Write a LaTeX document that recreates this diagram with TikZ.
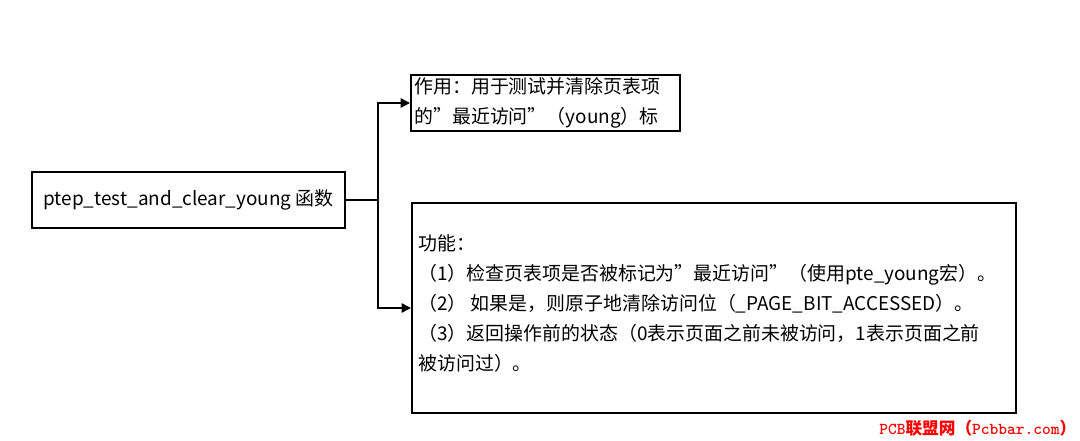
\documentclass[tikz,border=0pt]{standalone}
\usepackage{fontspec}
\setmainfont{Noto Sans CJK SC}
\usetikzlibrary{arrows.meta}
\begin{document}
\begin{tikzpicture}[x=0.75pt,y=-0.75pt,
  box/.style={draw=black,line width=1.5pt,inner sep=0pt},
  txt/.style={font=\fontsize{14.2}{22}\selectfont,inner sep=0pt,align=left},
  conn/.style={line width=1.2pt,-{Triangle[length=7pt,width=7pt]}}]
\useasboundingbox (0,0) rectangle (1080,440);
\node[box,minimum width=313*0.75pt,minimum height=56*0.75pt] (f) at (188.5,200) {};
\node[txt] at (f) {ptep\_test\_and\_clear\_young 函数};
\node[box,minimum width=269*0.75pt,minimum height=56*0.75pt] (a) at (545.5,103) {};
\node[txt,anchor=west] at (414,103) {作用：用于测试并清除页表项\\的"最近访问"（young）标};
\node[box,minimum width=604*0.75pt,minimum height=210*0.75pt] (b) at (714,308) {};
\node[txt,anchor=north west,font=\fontsize{14.2}{22.5}\selectfont] at (418,234) {功能：\\（1）检查页表项是否被标记为"最近访问"（使用pte\_young宏）。\\（2） 如果是，则原子地清除访问位（\_PAGE\_BIT\_ACCESSED）。\\（3）返回操作前的状态（0表示页面之前未被访问，1表示页面之前\\被访问过）。};
\coordinate (j) at (378,200);
\draw[line width=1.2pt] (f.east) -- (j);
\draw[conn] (j) |- (a.west);
\draw[conn] (j) |- (b.west);
\node[anchor=south east,inner sep=1pt,text=red,font=\fontsize{12.5}{13}\selectfont\bfseries\ttfamily] (w) at (1078,438) {PCB{\rmfamily 联盟网（}Pcbbar.com{\rmfamily ）}};
\end{tikzpicture}
\end{document}
